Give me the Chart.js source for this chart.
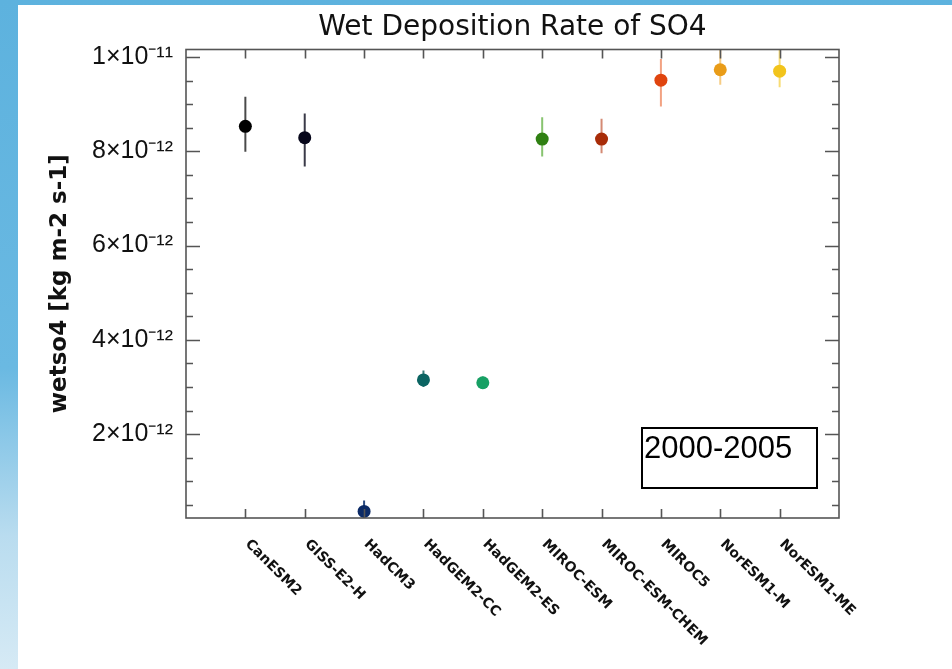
<!DOCTYPE html>
<html>
<head>
<meta charset="utf-8">
<script src="https://cdn.jsdelivr.net/npm/chart.js@4.4.1/dist/chart.umd.min.js"></script>
<style>
  html, body { margin: 0; padding: 0; }
  body {
    width: 952px; height: 669px; overflow: hidden; position: relative;
    background: linear-gradient(180deg, #5db2de 0%, #6ab9e2 55%, #b9dcef 80%, #d6eaf5 100%);
  }
  #panel { position: absolute; left: 18px; top: 5px; right: 0; bottom: 0; background: #fff; }
  #wrap { position: absolute; left: 0; top: 0; width: 952px; height: 669px; }
  #period {
    position: absolute; left: 641px; top: 427px; width: 172px; height: 58px;
    border: 2.5px solid #000; font-family: 'Liberation Sans', sans-serif;
    font-size: 31px; line-height: 38px; color: #000; padding-left: 1px;
  }
</style>
</head>
<body>
<div id="panel"></div>
<div id="wrap"><canvas id="graph" width="952" height="669"></canvas></div>
<div id="period">2000-2005</div>
<script>
const models = ['CanESM2', 'GISS-E2-H', 'HadCM3', 'HadGEM2-CC', 'HadGEM2-ES',
  'MIROC-ESM', 'MIROC-ESM-CHEM', 'MIROC5', 'NorESM1-M', 'NorESM1-ME'];
// mean wet deposition and spread (kg m-2 s-1)
const wetso4 = [8.53e-12, 8.29e-12, 0.36e-12, 3.15e-12, 3.09e-12,
  8.26e-12, 8.26e-12, 9.51e-12, 9.73e-12, 9.70e-12];
const wetso4Low = [7.99e-12, 7.68e-12, 0.20e-12, 3.00e-12, 2.98e-12,
  7.89e-12, 7.96e-12, 8.95e-12, 9.41e-12, 9.36e-12];
const wetso4High = [9.16e-12, 8.80e-12, 0.59e-12, 3.35e-12, 3.22e-12,
  8.72e-12, 8.69e-12, 9.96e-12, 10.3e-12, 10.3e-12];
const yTickValues = [2e-12, 4e-12, 6e-12, 8e-12, 10e-12];
const yTickLabels = ['2×10⁻¹²', '4×10⁻¹²', '6×10⁻¹²', '8×10⁻¹²', '1×10⁻¹¹'];

const pointColors = ['#000000', '#06061a', '#0b2a66', '#0b6462', '#17a064',
  '#2f8012', '#a82c08', '#e0440e', '#e99c18', '#f2c41c'];
const barColors = ['#4a4a4a', '#3a3a48', '#2a4a80', '#3a7c7a', '#58b888',
  '#88c470', '#d48a74', '#f2a282', '#f6cc84', '#f8dc74'];

// frame, inside ticks, error bars and slanted model names
const idlAxes = {
  id: 'idlAxes',
  beforeDatasetsDraw(chart) {
    const {ctx, chartArea: a, scales: {x, y}} = chart;
    ctx.save();
    ctx.beginPath();
    ctx.rect(a.left, a.top, a.right - a.left, a.bottom - a.top);
    ctx.clip();
    ctx.lineWidth = 2;
    wetso4.forEach((v, i) => {
      const px = x.getPixelForValue(i);
      ctx.strokeStyle = barColors[i];
      ctx.beginPath();
      ctx.moveTo(px, y.getPixelForValue(wetso4Low[i]));
      ctx.lineTo(px, y.getPixelForValue(wetso4High[i]));
      ctx.stroke();
    });
    ctx.restore();
  },
  afterDraw(chart) {
    const {ctx, chartArea: a, scales: {x, y}} = chart;
    ctx.save();
    ctx.strokeStyle = '#555';
    ctx.lineWidth = 1.6;
    ctx.strokeRect(a.left, a.top, a.right - a.left, a.bottom - a.top);
    ctx.beginPath();
    for (let v = 0.5e-12; v <= y.max; v += 0.5e-12) {
      const py = Math.round(y.getPixelForValue(v)) + 0.5;
      const major = yTickValues.some(t => Math.abs(t - v) < 1e-15);
      const len = major ? 14 : 7;
      ctx.moveTo(a.left, py); ctx.lineTo(a.left + len, py);
      ctx.moveTo(a.right, py); ctx.lineTo(a.right - len, py);
    }
    models.forEach((m, i) => {
      const px = Math.round(x.getPixelForValue(i)) + 0.5;
      ctx.moveTo(px, a.top); ctx.lineTo(px, a.top + 9);
      ctx.moveTo(px, a.bottom); ctx.lineTo(px, a.bottom - 9);
    });
    ctx.stroke();

    ctx.fillStyle = '#111';
    ctx.font = 'bold 14px "DejaVu Sans"';
    ctx.textAlign = 'left';
    ctx.textBaseline = 'middle';
    models.forEach((m, i) => {
      ctx.save();
      ctx.translate(x.getPixelForValue(i) + 2, a.bottom + 24);
      ctx.rotate(Math.PI / 4);
      ctx.fillText(m, 0, 0);
      ctx.restore();
    });
    ctx.restore();
  }
};

const myChart = new Chart(document.getElementById('graph'), {
  type: 'scatter',
  data: {
    datasets: [{
      data: wetso4.map((v, i) => ({x: i, y: v})),
      backgroundColor: pointColors,
      borderWidth: 0,
      pointRadius: 6.5,
      pointHoverRadius: 6.5
    }]
  },
  options: {
    responsive: false,
    animation: false,
    layout: {padding: {left: 0, right: 113, top: 0, bottom: 151}},
    plugins: {
      legend: {display: false},
      tooltip: {enabled: false},
      title: {
        display: true,
        fullSize: false,
        text: 'Wet Deposition Rate of SO4',
        color: '#111',
        font: {family: '"DejaVu Sans"', size: 28, weight: 'normal'},
        padding: {top: 11, bottom: 4.9}
      }
    },
    scales: {
      x: {type: 'linear', min: -1, max: 10, display: false},
      y: {
        type: 'linear',
        min: 0.22e-12,
        max: 10.16e-12,
        grid: {display: false},
        border: {display: false},
        afterBuildTicks: s => { s.ticks = yTickValues.map(v => ({value: v})); },
        afterFit: s => { s.width = 186; },
        ticks: {
          padding: 5,
          color: '#111',
          font: {family: '"Liberation Sans"', size: 25},
          callback: (v, i) => yTickLabels[i]
        },
        title: {
          display: true,
          text: 'wetso4 [kg m-2 s-1]',
          color: '#111',
          font: {family: '"DejaVu Sans"', size: 23, weight: 'bold'},
          padding: {top: 46}
        }
      }
    }
  },
  plugins: [idlAxes]
});
</script>
</body>
</html>
